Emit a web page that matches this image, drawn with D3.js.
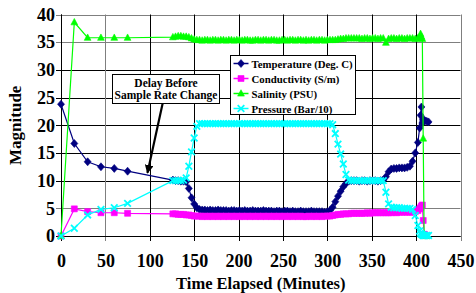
<!DOCTYPE html>
<html><head><meta charset="utf-8">
<script src="https://cdn.jsdelivr.net/npm/d3@7"></script>
<style>
html,body{margin:0;padding:0;background:#fff;}
svg{display:block;}
text{font-family:"Liberation Serif","Times New Roman",serif;font-weight:bold;fill:#000;}
</style></head>
<body>
<svg id="c" width="476" height="293"></svg>
<script>
// ---- data ----
const times = [0,15,30,45,60,75,
126,129,132,135,138,141,144,147,150,153,
156,159,162,165,168,171,174,177,180,183,
186,189,192,195,198,201,204,207,210,213,
216,219,222,225,228,231,234,237,240,243,
246,249,252,255,258,261,264,267,270,273,
276,279,282,285,288,291,294,297,300,303,
306,309,312,315,318,321,324,327,330,333,
336,339,342,345,348,351,354,357,360,363,
366,369,372,375,378,381,384,387,390,393,
396,399,402,
404,405,406,407,408,409,410,412,414];

const temperature = [23.8,16.7,13.4,12.5,12.2,11.7,
10.1,10.0,10.0,9.9,9.9,9.8,8.6,6.9,5.8,5.1,
4.8,4.7,4.7,4.6,4.7,4.6,4.6,4.7,4.6,4.6,
4.6,4.5,4.6,4.6,4.5,4.6,4.5,4.6,4.5,4.5,
4.6,4.5,4.5,4.5,4.6,4.5,4.5,4.5,4.4,4.5,
4.5,4.4,4.5,4.5,4.4,4.5,4.4,4.4,4.5,4.4,
4.4,4.4,4.5,4.4,4.4,4.4,4.4,4.3,4.4,4.6,
5.2,6.2,7.2,8.1,8.9,9.5,9.9,10.0,10.0,10.0,
9.9,10.0,10.0,9.9,10.0,10.0,10.0,9.9,10.0,10.1,
10.7,11.6,12.1,12.2,12.2,12.3,12.3,12.3,12.4,12.6,
13.5,15.0,16.9,
19.5,21.8,23.3,20.4,21.0,20.9,20.8,20.7,20.6];

const conductivity = [0,4.9,4.4,4.2,4.2,4.1,
4.0,4.0,3.9,3.9,3.9,3.8,3.8,3.7,3.6,3.6,
3.6,3.5,3.6,3.5,3.6,3.5,3.6,3.5,3.6,3.5,
3.6,3.5,3.6,3.5,3.6,3.5,3.6,3.5,3.6,3.5,
3.6,3.5,3.6,3.5,3.6,3.5,3.6,3.5,3.6,3.5,
3.6,3.5,3.6,3.5,3.6,3.5,3.6,3.5,3.6,3.5,
3.5,3.6,3.5,3.6,3.5,3.6,3.5,3.6,3.6,3.6,
3.7,3.8,3.9,3.9,4.0,4.0,4.0,4.1,4.1,4.1,
4.1,4.1,4.1,4.2,4.1,4.2,4.2,4.2,4.2,4.2,
4.2,4.2,4.2,4.3,4.2,4.3,4.3,4.3,4.3,4.3,
4.3,4.4,4.6,
4.9,5.1,5.4,5.6,2.8,0.3,0.2,null,null];

const salinity = [0,38.6,35.8,35.8,35.8,35.8,
35.9,36.0,36.1,36.1,36.0,36.0,35.9,35.7,35.5,35.4,
35.4,35.3,35.4,35.4,35.3,35.4,35.4,35.3,35.4,35.4,
35.3,35.4,35.4,35.3,35.4,35.4,35.3,35.4,35.4,35.3,
35.3,35.4,35.4,35.3,35.4,35.4,35.3,35.4,35.4,35.3,
35.3,35.4,35.4,35.3,35.4,35.4,35.3,35.4,35.4,35.3,
35.4,35.3,35.4,35.4,35.3,35.4,35.4,35.3,35.4,35.4,
35.4,35.4,35.5,35.6,35.6,35.7,35.7,35.7,35.7,35.7,
35.7,35.6,35.7,35.7,35.6,35.7,35.7,35.6,35.7,35.7,
34.9,35.6,35.7,35.7,35.6,35.7,35.7,35.6,35.7,35.7,
35.7,35.6,35.7,
35.8,36.5,36.0,35.6,17.6,0.3,0.1,0.0,null];

const pressure = [0,1.4,3.8,4.8,5.1,5.9,
10.0,10.0,10.0,10.0,10.1,10.5,12.6,15.2,17.7,19.8,
20.3,20.3,20.3,20.3,20.3,20.3,20.3,20.3,20.3,20.3,
20.3,20.3,20.3,20.3,20.3,20.3,20.3,20.3,20.3,20.3,
20.3,20.3,20.3,20.3,20.3,20.3,20.3,20.3,20.3,20.3,
20.3,20.3,20.3,20.3,20.3,20.3,20.3,20.3,20.3,20.3,
20.3,20.3,20.3,20.3,20.3,20.3,20.3,20.3,20.3,20.3,
20.1,18.5,16.6,14.8,13.0,11.1,10.1,10.0,10.0,10.0,
10.0,10.0,10.0,10.0,10.0,10.0,10.0,10.0,10.0,10.0,
7.9,5.8,5.2,5.1,5.1,5.1,5.0,5.0,5.0,5.0,
4.8,3.7,1.9,
0.9,0.5,0.3,0.2,0.1,0.1,0.1,0.1,0.1];

const seriesNames = ["Temperature (Deg. C)","Conductivity (S/m)","Salinity (PSU)","Pressure (Bar/10)"];
const xTicks = [0,50,100,150,200,250,300,350,400,450];
const yTicks = [0,5,10,15,20,25,30,35,40];
const xTitle = "Time Elapsed (Minutes)";
const yTitle = "Magnitude";
const noteLines = ["Delay Before","Sample Rate Change"];
// annotation anchors in data units
const noteBox = {t0:57, t1:177.5, v0:29.3, v1:24.0};
const arrowFrom = {t:114.6, v:24.0};
const arrowTo = {t:97.4, v:11.4};

// ---- chart ----
const svg = d3.select("#c");
const x = d3.scaleLinear().domain([0,450]).range([61,460.5]);
const y = d3.scaleLinear().domain([0,40]).range([236,14.5]);

const grayY = new Set([5,35,40]);
const grayX = new Set([50,450]);

// gridlines
const g = svg.append("g");
g.selectAll(".hg").data(yTicks).join("line")
  .attr("x1", x(0)-5).attr("x2", x(450))
  .attr("y1", d=>Math.round(y(d))+0.5).attr("y2", d=>Math.round(y(d))+0.5)
  .attr("stroke", d=>grayY.has(d)?"#7f7f7f":"#000").attr("stroke-width",1);
g.selectAll(".vg").data(xTicks).join("line")
  .attr("y1", y(40)).attr("y2", y(0)+5)
  .attr("x1", d=>Math.round(x(d))+0.5).attr("x2", d=>Math.round(x(d))+0.5)
  .attr("stroke", d=>grayX.has(d)?"#7f7f7f":"#000").attr("stroke-width",1);

// axis lines
svg.append("line").attr("x1",Math.round(x(0))+0.5).attr("x2",Math.round(x(0))+0.5)
  .attr("y1",y(40)).attr("y2",y(0)).attr("stroke","#000");
svg.append("line").attr("x1",x(0)).attr("x2",x(450))
  .attr("y1",Math.round(y(0))+0.5).attr("y2",Math.round(y(0))+0.5).attr("stroke","#000");

// tick labels via d3 axes
const ya = svg.append("g").attr("transform",`translate(${x(0)},0)`)
  .call(d3.axisLeft(y).tickValues(yTicks).tickSize(0).tickPadding(6));
ya.select(".domain").remove();
ya.selectAll("text").attr("font-size",18).attr("font-family",null);
const xa = svg.append("g").attr("transform",`translate(0,${y(0)})`)
  .call(d3.axisBottom(x).tickValues(xTicks).tickSize(0).tickPadding(18));
xa.select(".domain").remove();
xa.selectAll("text").attr("font-size",18).attr("font-family",null);

// axis titles
svg.append("text").attr("x",(x(0)+x(450))/2).attr("y",289)
  .attr("text-anchor","middle").attr("font-size",16.5).text(xTitle);
svg.append("text").attr("transform",`translate(21,${(y(0)+y(40))/2}) rotate(-90)`)
  .attr("text-anchor","middle").attr("font-size",17).text(yTitle);

// series
const colors = ["#000080","#ff00ff","#00ff00","#00ffff"];
const markers = [
  {type:"path", d:"M0,-4L3.5,0L0,4L-3.5,0Z"},
  {type:"path", d:"M-3,-3H3V3H-3Z"},
  {type:"path", d:"M0,-3.8L3.4,2.6L-3.4,2.6Z"},
  {type:"x", d:"M-3.3,-3.3L3.3,3.3M3.3,-3.3L-3.3,3.3"}
];
const allSeries = [temperature, conductivity, salinity, pressure];

function drawMarker(sel, i){
  const m = markers[i];
  if(m.type==="x"){
    sel.append("path").attr("d",m.d).attr("stroke",colors[i]).attr("stroke-width",1.8).attr("fill","none");
  } else {
    sel.append("path").attr("d",m.d).attr("fill",colors[i]).attr("stroke",colors[i]).attr("stroke-width",0.6);
  }
}

allSeries.forEach((vals,i)=>{
  const pts = times.map((t,k)=>({t, v:vals[k]})).filter(p=>p.v!==null);
  const line = d3.line().x(p=>x(p.t)).y(p=>y(p.v));
  const sg = svg.append("g");
  sg.append("path").datum(pts).attr("d",line).attr("fill","none")
    .attr("stroke",colors[i]).attr("stroke-width",1.2);
  sg.selectAll("g.m").data(pts).join("g")
    .attr("transform",p=>`translate(${x(p.t)},${y(p.v)})`)
    .each(function(){ drawMarker(d3.select(this), i); });
});

// annotation box + arrow
svg.append("defs").append("marker").attr("id","ah")
  .attr("viewBox","0 0 10 10").attr("refX",9).attr("refY",5)
  .attr("markerWidth",4).attr("markerHeight",4).attr("orient","auto")
  .append("path").attr("d","M0,0L10,5L0,10Z").attr("fill","#000");
svg.append("line").attr("x1",x(arrowFrom.t)).attr("y1",y(arrowFrom.v))
  .attr("x2",x(arrowTo.t)).attr("y2",y(arrowTo.v))
  .attr("stroke","#000").attr("stroke-width",2.2).attr("marker-end","url(#ah)");
const bx0 = Math.round(x(noteBox.t0))+0.5, bx1 = Math.round(x(noteBox.t1))+0.5;
const by0 = Math.round(y(noteBox.v0))+0.5, by1 = Math.round(y(noteBox.v1))+0.5;
svg.append("rect").attr("x",bx0).attr("y",by0).attr("width",bx1-bx0).attr("height",by1-by0)
  .attr("fill","#fff").attr("stroke","#000").attr("stroke-width",1);
noteLines.forEach((s,k)=>{
  svg.append("text").attr("x",(bx0+bx1)/2).attr("y",by0+12+k*12.5)
    .attr("text-anchor","middle").attr("font-size",11.5).text(s);
});

// legend
const lg = svg.append("g").attr("transform","translate(230.5,55.5)");
lg.append("rect").attr("width",125).attr("height",59).attr("fill","#fff").attr("stroke","#000");
seriesNames.forEach((n,i)=>{
  const row = lg.append("g").attr("transform",`translate(0,${8+i*15})`);
  row.append("line").attr("x1",3).attr("x2",18).attr("stroke",colors[i]).attr("stroke-width",1.5);
  drawMarker(row.append("g").attr("transform","translate(10.5,0)"), i);
  row.append("text").attr("x",21).attr("y",4).attr("font-size",10.8).text(n);
});
</script>
</body></html>
